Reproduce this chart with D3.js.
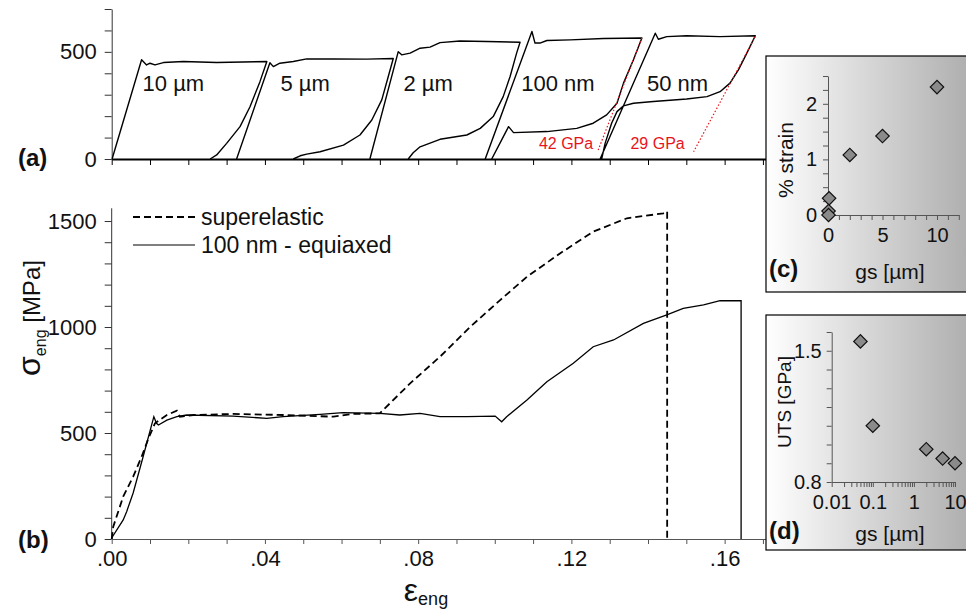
<!DOCTYPE html>
<html><head><meta charset="utf-8">
<script src="https://cdn.jsdelivr.net/npm/d3@7"></script>
<style>
body{margin:0;background:#fff}
svg{display:block}
text{font-family:"Liberation Sans",Arial,Helvetica,sans-serif}
</style>
</head><body>
<svg id="chart" width="966" height="611"></svg>
<script>
// ---------- DATA ----------
// Panel (a): cyclic loading curves [strain offset, stress MPa]
const curve10um = [[0.0001,0],[0.0078,463],[0.0091,439],[0.0100,447],[0.0113,439],[0.0135,450],[0.0187,455],[0.0274,450],[0.0405,455],[0.0387,361],[0.0361,244],[0.0335,151],[0.0300,73],[0.0274,19],[0.0257,0]];
const curve5um = [[0.0326,0],[0.0413,449],[0.0422,431],[0.0439,447],[0.0474,455],[0.0509,467],[0.0579,467],[0.0666,466],[0.0735,469],[0.0722,385],[0.0705,276],[0.0679,182],[0.0648,112],[0.0605,65],[0.0544,34],[0.0509,23],[0.0492,15],[0.0474,0]];
const curve2um = [[0.0674,0],[0.0748,501],[0.0757,486],[0.0779,494],[0.0805,517],[0.0831,522],[0.0857,543],[0.0909,551],[0.0979,548],[0.1066,545],[0.1057,494],[0.1040,385],[0.1022,291],[0.0996,198],[0.0962,143],[0.0927,112],[0.0857,92],[0.0805,57],[0.0787,29],[0.0774,0]];
const curve100nm = [[0.0975,0],[0.1097,595],[0.1105,541],[0.1118,541],[0.1136,553],[0.1197,556],[0.1284,562],[0.1384,565],[0.1362,463],[0.1336,354],[0.1319,260],[0.1292,206],[0.1257,167],[0.1214,143],[0.1136,128],[0.1049,123],[0.1036,151],[0.1018,89],[0.0992,0]];
const curve50nm = [[0.1275,0],[0.1419,587],[0.1427,559],[0.1449,571],[0.1501,575],[0.1588,571],[0.1680,575],[0.1658,494],[0.1636,416],[0.1614,354],[0.1588,314],[0.1554,291],[0.1501,280],[0.1414,268],[0.1362,260],[0.1336,248],[0.1319,221],[0.1305,167],[0.1288,73],[0.1279,0]];
const curveLabels = ["10 µm","5 µm","2 µm","100 nm","50 nm"];
const modulusLines = [[[0.1384,565],[0.1270,42]],[[0.1680,571],[0.1519,34]]];
const modulusLabels = ["42 GPa","29 GPa"];

// Panel (b): tensile curves
const superelastic = [[0,0],[0.0004,58],[0.0030,200],[0.0056,294],[0.0078,388],[0.0096,475],[0.0113,546],[0.0144,585],[0.0170,605],[0.0178,577],[0.0213,585],[0.0317,590],[0.0448,585],[0.0579,577],[0.0631,590],[0.0700,593],[0.0779,734],[0.0857,860],[0.0936,1001],[0.1014,1127],[0.1084,1237],[0.1171,1348],[0.1257,1450],[0.1345,1513],[0.1440,1536],[0.1450,1545],[0.1450,0]];
const equiaxed100nm = [[0,0],[0.0002,11],[0.0030,90],[0.0039,129],[0.0056,217],[0.0082,388],[0.0110,577],[0.0117,546],[0.0122,538],[0.0144,561],[0.0170,577],[0.0196,585],[0.0317,580],[0.0405,569],[0.0447,577],[0.0544,588],[0.0604,596],[0.0700,593],[0.0752,585],[0.0805,593],[0.0857,577],[0.0927,577],[0.1001,580],[0.1018,553],[0.1031,577],[0.1084,656],[0.1136,742],[0.1205,829],[0.1257,907],[0.1310,939],[0.1388,1017],[0.1449,1057],[0.1492,1088],[0.1545,1104],[0.1588,1124],[0.1643,1124],[0.1643,0]];
const legendLabels = ["superelastic","100 nm - equiaxed"];

// Panel (c): % strain vs grain size
const gsStrain = [10,5,2,0.1,0.05,0.05];
const pctStrain = [2.3,1.42,1.08,0.3,0.07,0.0];
// Panel (d): UTS vs grain size
const gsUTS = [0.05,0.1,2,5,10];
const utsGPa = [1.55,1.10,0.975,0.925,0.90];

// ---------- DRAW ----------
const svg = d3.select("#chart");
const FONT = '"Liberation Sans",Arial,Helvetica,sans-serif';

const x = d3.scaleLinear().domain([0,0.1708]).range([111.7,766]);
const yA = d3.scaleLinear().domain([0,700]).range([159,9]);
const yB = d3.scaleLinear().domain([0,1560]).range([539,208.3]);

function styleAxis(g, size, col){
  g.selectAll("text").attr("font-family",FONT).attr("font-size",size).attr("fill","#111");
  g.selectAll("line").attr("stroke",col||"#222");
  g.select(".domain").attr("stroke",col||"#222");
}

// Panel (a) axes
const axAy = svg.append("g").attr("transform","translate(111.7,0)")
  .call(d3.axisLeft(yA).tickValues(d3.range(0,701,100)).tickFormat(d=> d%500===0? d : "").tickSize(7).tickSizeOuter(0).tickPadding(8));
styleAxis(axAy,22,"#333");
const axAx = svg.append("g").attr("transform","translate(0,159)")
  .call(d3.axisBottom(x).tickValues(d3.range(0,0.1705,0.01)).tickFormat("").tickSize(6).tickSizeOuter(0));
styleAxis(axAx,22,"#000");
axAx.select(".domain").attr("stroke-width",2.2);

const lineA = d3.line().x(d=>x(d[0])).y(d=>yA(d[1]));
const curvesA = [curve10um,curve5um,curve2um,curve100nm,curve50nm];
svg.append("g").selectAll("path").data(curvesA).join("path")
  .attr("d",lineA).attr("fill","none").attr("stroke","#000").attr("stroke-width",1.4).attr("stroke-linejoin","round");

svg.append("g").selectAll("path").data(modulusLines).join("path")
  .attr("d",lineA).attr("fill","none").attr("stroke","#e8141b").attr("stroke-width",1.2).attr("stroke-dasharray","1.5,2");

const labelPos = [[0.0161,355],[0.0505,355],[0.0826,355],[0.1165,355],[0.1477,355]];
svg.append("g").selectAll("text").data(curveLabels).join("text")
  .attr("x",(d,i)=>x(labelPos[i][0])).attr("y",(d,i)=>yA(labelPos[i][1]))
  .attr("dy","0.36em").attr("text-anchor","middle").attr("font-size",22).attr("fill","#111").text(d=>d);

const modLabelPos = [[0.1186,72],[0.1425,72]];
svg.append("g").selectAll("text").data(modulusLabels).join("text")
  .attr("x",(d,i)=>x(modLabelPos[i][0])).attr("y",(d,i)=>yA(modLabelPos[i][1]))
  .attr("dy","0.36em").attr("text-anchor","middle").attr("font-size",16).attr("fill","#e8141b").text(d=>d);

svg.append("text").attr("x",18).attr("y",166).attr("font-size",24).attr("font-weight","bold").attr("fill","#111").text("(a)");

// Panel (b) axes
const axBy = svg.append("g").attr("transform","translate(111.7,0)")
  .call(d3.axisLeft(yB).tickValues(d3.range(0,1501,100)).tickFormat(d=> d%500===0? d : "").tickSize(7).tickSizeOuter(0).tickPadding(8));
styleAxis(axBy,22,"#333");
axBy.select(".domain").attr("d",`M-0,${yB(0)}V${yB(1560)}`);
const axBx = svg.append("g").attr("transform","translate(0,539)")
  .call(d3.axisBottom(x).tickValues(d3.range(0,0.1705,0.01)).tickFormat(d=>{const k=Math.round(d*100);return k%4===0? d3.format(".2f")(d).replace("0.","."):"";}).tickSize(5).tickSizeOuter(0).tickPadding(6));
styleAxis(axBx,22,"#555");

const lineB = d3.line().x(d=>x(d[0])).y(d=>yB(d[1]));
svg.append("path").datum(superelastic).attr("d",lineB).attr("fill","none").attr("stroke","#000").attr("stroke-width",1.8).attr("stroke-dasharray","7,4");
svg.append("path").datum(equiaxed100nm).attr("d",lineB).attr("fill","none").attr("stroke","#000").attr("stroke-width",1.3);

// legend
const leg = svg.append("g");
const legStyles = ["7,4",null];
legendLabels.forEach((t,i)=>{
  const yy = 217 + i*28;
  leg.append("line").attr("x1",133).attr("x2",195).attr("y1",yy).attr("y2",yy)
    .attr("stroke","#000").attr("stroke-width",i===0?1.8:1.2).attr("stroke-dasharray",legStyles[i]);
  leg.append("text").attr("x",201).attr("y",yy).attr("dy","0.36em").attr("font-size",23).attr("fill","#111").text(t);
});

svg.append("text").attr("x",18).attr("y",548).attr("font-size",24).attr("font-weight","bold").attr("fill","#111").text("(b)");

// y title
const yt = svg.append("text").attr("transform","translate(40,318) rotate(-90)").attr("text-anchor","middle").attr("fill","#111");
yt.append("tspan").attr("font-size",32).text("σ");
yt.append("tspan").attr("font-size",16).attr("dy",6).text("eng");
yt.append("tspan").attr("font-size",24).attr("dy",-6).text(" [MPa]");
// x title
const xt = svg.append("text").attr("x",426).attr("y",601).attr("text-anchor","middle").attr("fill","#111");
xt.append("tspan").attr("font-size",32).text("ε");
xt.append("tspan").attr("font-size",18).attr("dy",4).text("eng");

// ---------- Inset panels ----------
const defs = svg.append("defs");
const grad = defs.append("linearGradient").attr("id","bg").attr("x1",0).attr("x2",1).attr("y1",0).attr("y2",0);
grad.append("stop").attr("offset","0%").attr("stop-color","#ffffff");
grad.append("stop").attr("offset","100%").attr("stop-color","#aeaeae");

svg.append("rect").attr("x",766).attr("y",56).attr("width",205).attr("height",236).attr("fill","url(#bg)").attr("stroke","#000").attr("stroke-width",1.2);
svg.append("rect").attr("x",766).attr("y",315).attr("width",205).attr("height",235).attr("fill","url(#bg)").attr("stroke","#000").attr("stroke-width",1.2);

const diamond = d3.symbol().type(d3.symbolSquare).size(90);

// (c)
const xC = d3.scaleLinear().domain([0,12]).range([828,958.8]);
const yC = d3.scaleLinear().domain([0,2.5]).range([215,76]);
const axCy = svg.append("g").attr("transform","translate(828,0)")
  .call(d3.axisLeft(yC).tickValues(d3.range(0,2.51,0.25)).tickFormat(d=> Number.isInteger(d)? d:"").tickSize(5).tickSizeOuter(0).tickPadding(6));
styleAxis(axCy,20,"#555");
const axCx = svg.append("g").attr("transform","translate(0,215)")
  .call(d3.axisBottom(xC).tickValues(d3.range(0,12.01,1)).tickFormat(d=> d%5===0? d:"").tickSize(5).tickSizeOuter(0).tickPadding(8));
styleAxis(axCx,20,"#555");
svg.append("g").selectAll("path").data(gsStrain).join("path")
  .attr("d",diamond).attr("transform",(d,i)=>`translate(${xC(d)},${yC(pctStrain[i])}) rotate(45)`)
  .attr("fill","#8a8a8a").attr("stroke","#111").attr("stroke-width",1.2);
svg.append("text").attr("transform","translate(793,160) rotate(-90)").attr("text-anchor","middle").attr("font-size",21).attr("fill","#111").text("% strain");
svg.append("text").attr("x",890).attr("y",279).attr("text-anchor","middle").attr("font-size",21).attr("fill","#111").text("gs [µm]");
svg.append("text").attr("x",769).attr("y",277).attr("font-size",24).attr("font-weight","bold").attr("fill","#111").text("(c)");

// (d)
const xD = d3.scaleLog().domain([0.01,10]).range([831.7,955]);
const yD = d3.scaleLinear().domain([0.8,1.6]).range([482,332]);
const logTicks = [];
[0.01,0.1,1].forEach(b=>{for(let m=1;m<10;m++) logTicks.push(b*m);});
logTicks.push(10);
const axDy = svg.append("g").attr("transform","translate(831.7,0)")
  .call(d3.axisLeft(yD).tickValues(d3.range(0.8,1.601,0.1)).tickFormat(d=> Math.abs(d-0.8)<1e-6?"0.8":(Math.abs(d-1.5)<1e-6?"1.5":"")).tickSize(5).tickSizeOuter(0).tickPadding(5));
styleAxis(axDy,20,"#555");
const axDx = svg.append("g").attr("transform","translate(0,482)")
  .call(d3.axisBottom(xD).tickValues(logTicks).tickFormat(d=>{const l=Math.log10(d);return Math.abs(l-Math.round(l))<1e-6? String(+d.toPrecision(1)):"";}).tickSize(5).tickSizeOuter(0).tickPadding(8));
styleAxis(axDx,20,"#555");
svg.append("g").selectAll("path").data(gsUTS).join("path")
  .attr("d",diamond).attr("transform",(d,i)=>`translate(${xD(d)},${yD(utsGPa[i])}) rotate(45)`)
  .attr("fill","#8a8a8a").attr("stroke","#111").attr("stroke-width",1.2);
svg.append("text").attr("transform","translate(791,402) rotate(-90)").attr("text-anchor","middle").attr("font-size",19).attr("fill","#111").text("UTS [GPa]");
svg.append("text").attr("x",890).attr("y",541).attr("text-anchor","middle").attr("font-size",21).attr("fill","#111").text("gs [µm]");
svg.append("text").attr("x",769).attr("y",539).attr("font-size",24).attr("font-weight","bold").attr("fill","#111").text("(d)");
</script>
</body></html>
